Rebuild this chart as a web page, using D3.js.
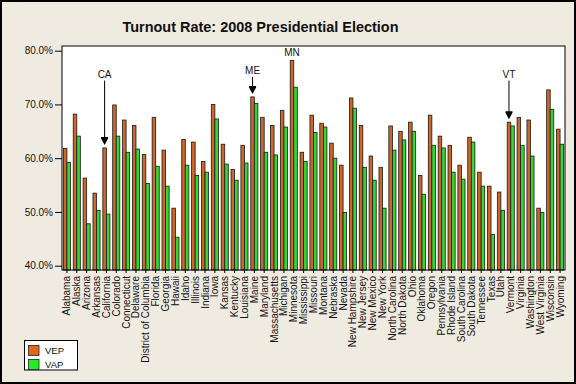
<!DOCTYPE html>
<html><head><meta charset="utf-8">
<script src="https://cdn.jsdelivr.net/npm/d3@7"></script>
<style>html,body{margin:0;padding:0;background:#f0ebe1;}svg{display:block;}</style>
</head><body>
<svg id="c" width="576" height="384"></svg>
<script>
const states = ["Alabama","Alaska","Arizona","Arkansas","California","Colorado","Connecticut","Delaware","District of Columbia","Florida","Georgia","Hawaii","Idaho","Illinois","Indiana","Iowa","Kansas","Kentucky","Louisiana","Maine","Maryland","Massachusetts","Michigan","Minnesota","Mississippi","Missouri","Montana","Nebraska","Nevada","New Hampshire","New Jersey","New Mexico","New York","North Carolina","North Dakota","Ohio","Oklahoma","Oregon","Pennsylvania","Rhode Island","South Carolina","South Dakota","Tennessee","Texas","Utah","Vermont","Virginia","Washington","West Virginia","Wisconsin","Wyoming"];
const vep = [61.8,68.2,56.3,53.5,61.9,69.9,67.1,66.1,60.7,67.6,61.5,50.7,63.5,63.0,59.4,70.0,62.6,57.9,62.4,71.4,67.6,66.1,68.9,78.2,61.1,68.0,66.5,62.8,58.7,71.2,66.1,60.4,58.3,66.0,65.0,66.7,56.8,68.0,64.1,62.4,58.7,63.9,57.4,54.8,53.7,66.7,67.6,67.1,50.7,72.7,65.4];
const vap = [59.2,64.1,47.8,50.3,49.6,64.1,61.1,61.7,55.3,58.5,54.8,45.3,58.7,56.8,57.4,67.3,58.9,55.9,59.1,70.2,61.1,60.6,65.8,73.2,59.4,64.8,65.8,60.0,49.9,69.3,58.3,55.9,50.7,61.5,63.4,65.0,53.3,62.4,61.9,57.4,56.1,63.0,54.8,45.8,50.3,66.0,62.4,60.4,49.9,69.1,62.6];
const seriesNames = ["VEP","VAP"];
const yTicks = [40,50,60,70,80];
const title = "Turnout Rate: 2008 Presidential Election";
const annotations = [
  {state:"California", label:"CA", arrow:true, labelAt:75.0},
  {state:"Maine", label:"ME", arrow:true, labelAt:75.7},
  {state:"Minnesota", label:"MN", arrow:false},
  {state:"Vermont", label:"VT", arrow:true, labelAt:75.0}
];

const colors = {VEP:"#cd6626", VAP:"#34d634"};
const legendColors = {VEP:"#e06818", VAP:"#22ee22"};
const font = "'Liberation Sans', Arial, sans-serif";

const svg = d3.select("#c");
const W = 576, H = 384;
const m = {l:62, r:565, t:46, b:270};

svg.append("rect").attr("x",0).attr("y",0).attr("width",W).attr("height",H).attr("fill","#f0ebe1");
svg.append("rect").attr("x",1).attr("y",1).attr("width",W-2).attr("height",H-2).attr("fill","none").attr("stroke","#000").attr("stroke-width",2);

svg.append("text").attr("x",260.5).attr("y",31.5).attr("text-anchor","middle")
  .attr("font-family",font).attr("font-weight","bold").attr("font-size",15)
  .attr("textLength",276).attr("lengthAdjust","spacingAndGlyphs")
  .attr("fill","#111").text(title);

const y = d3.scaleLinear().domain([39.2,80.87]).range([m.b,m.t]);
const x = d3.scaleBand().domain(states).range([m.l,m.r]).paddingInner(0.28).paddingOuter(0.14);
const xs = d3.scaleBand().domain(seriesNames).range([0,x.bandwidth()]);

svg.append("rect").attr("x",m.l).attr("y",m.t).attr("width",m.r-m.l).attr("height",m.b-m.t)
  .attr("fill","#fff");

const rows = states.map((s,i)=>({state:s, VEP:vep[i], VAP:vap[i]}));
const g = svg.append("g");
seriesNames.forEach(sn=>{
  g.selectAll(null).data(rows).enter().append("rect")
    .attr("x",d=>x(d.state)+xs(sn))
    .attr("y",d=>y(d[sn]))
    .attr("width",xs.bandwidth())
    .attr("height",d=>m.b-y(d[sn]))
    .attr("fill",colors[sn]).attr("stroke","#1a1a1a").attr("stroke-width",0.8);
});

svg.append("rect").attr("x",m.l).attr("y",m.t).attr("width",m.r-m.l).attr("height",m.b-m.t)
  .attr("fill","none").attr("stroke","#000").attr("stroke-width",1);

// y axis
const ya = d3.axisLeft(y).tickValues(yTicks).tickSize(7).tickPadding(2).tickFormat(d=>d.toFixed(1)+"%");
const yg = svg.append("g").attr("transform",`translate(${m.l},0)`).call(ya);
yg.select(".domain").remove();
yg.selectAll("text").attr("font-family",font).attr("font-size",10).attr("fill","#111");
yg.selectAll("line").attr("stroke","#000");

// x axis
const xa = d3.axisBottom(x).tickSize(3).tickPadding(3);
const xg = svg.append("g").attr("transform",`translate(0,${m.b})`).call(xa);
xg.select(".domain").remove();
xg.selectAll("line").attr("stroke","#000");
xg.selectAll("text").attr("font-family",font).attr("font-size",10).attr("fill","#111")
  .attr("transform","rotate(-90)").attr("text-anchor","end")
  .attr("x",-6).attr("y",0).attr("dy","0.35em");

// annotations
const ag = svg.append("g");
annotations.forEach(a=>{
  const i = states.indexOf(a.state);
  const cx = x(a.state)+xs("VEP")+xs.bandwidth()/2;
  const top = y(vep[i]);
  if(a.arrow){
    const by = y(a.labelAt);
    ag.append("text").attr("x",cx).attr("y",by).attr("text-anchor","middle")
      .attr("font-family",font).attr("font-size",10).attr("fill","#111").text(a.label);
    const tip = top-3;
    ag.append("line").attr("x1",cx).attr("x2",cx).attr("y1",by+3).attr("y2",tip-4)
      .attr("stroke","#000").attr("stroke-width",1);
    ag.append("path").attr("d",`M${cx-3.5},${tip-8}L${cx+3.5},${tip-8}L${cx+3.5},${tip-6.5}L${cx},${tip}L${cx-3.5},${tip-6.5}Z`)
      .attr("fill","#000");
  } else {
    ag.append("text").attr("x",cx).attr("y",top-4).attr("text-anchor","middle")
      .attr("font-family",font).attr("font-size",10).attr("fill","#111").text(a.label);
  }
});

// legend
const lg = svg.append("g");
lg.append("rect").attr("x",24.5).attr("y",340.5).attr("width",53).attr("height",29.5)
  .attr("fill","#fff").attr("stroke","#000").attr("stroke-width",1);
seriesNames.forEach((sn,k)=>{
  lg.append("rect").attr("x",28.5).attr("y",345.5+k*14).attr("width",10.5).attr("height",10)
    .attr("fill",legendColors[sn]).attr("stroke","#222").attr("stroke-width",0.8);
  lg.append("text").attr("x",45).attr("y",353.5+k*14)
    .attr("font-family",font).attr("font-size",9.5).attr("fill","#111").text(sn);
});
</script>
</body></html>
